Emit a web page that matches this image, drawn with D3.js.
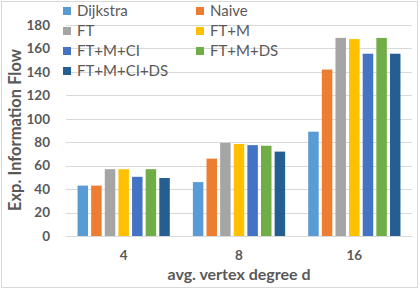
<!DOCTYPE html>
<html>
<head>
<meta charset="utf-8">
<script src="https://cdn.jsdelivr.net/npm/d3@7"></script>
<style>
body { margin: 0; background: #fff; }
svg text { font-family: Lato, "Open Sans", sans-serif; fill: #595959; }
</style>
</head>
<body>
<div id="chart"></div>
<script>
const categories = ['4', '8', '16'];
const seriesNames = ['Dijkstra', 'Naive', 'FT', 'FT+M', 'FT+M+CI', 'FT+M+DS', 'FT+M+CI+DS'];
const colors = ['#5B9BD5', '#ED7D31', '#A5A5A5', '#FFC000', '#4472C4', '#70AD47', '#255E91'];
const values = {
  'Dijkstra':   [43, 46, 89],
  'Naive':      [43, 66, 142],
  'FT':         [57, 79.5, 169],
  'FT+M':       [57, 78.5, 168],
  'FT+M+CI':    [50.5, 77.5, 155.5],
  'FT+M+DS':    [57, 77, 169],
  'FT+M+CI+DS': [49.5, 72, 155.5]
};
const yTicks = [0, 20, 40, 60, 80, 100, 120, 140, 160, 180];

const width = 420, height = 289;
const margin = {top: 25, right: 8, bottom: 53, left: 66};

const svg = d3.select('#chart').append('svg')
  .attr('width', width)
  .attr('height', height);

svg.append('rect')
  .attr('x', 1.5).attr('y', 1.5)
  .attr('width', width - 4).attr('height', height - 3)
  .attr('fill', '#fff')
  .attr('stroke', '#d9d9d9');

const x0 = d3.scaleBand()
  .domain(categories)
  .range([margin.left, width - margin.right])
  .paddingInner(0.2)
  .paddingOuter(0.1);

const x1 = d3.scaleBand()
  .domain(seriesNames)
  .range([0, x0.bandwidth()])
  .paddingInner(0.23);

const y = d3.scaleLinear()
  .domain([0, 180])
  .range([height - margin.bottom, margin.top]);

// gridlines
svg.append('g')
  .selectAll('line')
  .data(yTicks)
  .enter()
  .append('line')
  .attr('x1', margin.left)
  .attr('x2', width - margin.right)
  .attr('y1', d => Math.round(y(d)) + 0.5)
  .attr('y2', d => Math.round(y(d)) + 0.5)
  .attr('stroke', '#d9d9d9');

// y axis labels
const yAxis = svg.append('g')
  .attr('transform', 'translate(' + (margin.left - 16) + ',0)')
  .call(d3.axisLeft(y).tickValues(yTicks).tickSize(0).tickPadding(0));
yAxis.select('.domain').remove();
yAxis.selectAll('.tick text')
  .style('font-size', '13.5px')
  .style('font-weight', 'bold')
  .style('fill', '#595959');

// bars
const rows = categories.map((c, i) => ({cat: c, vals: seriesNames.map((s, j) => ({name: s, value: values[s][i], color: colors[j]}))}));

svg.append('g')
  .selectAll('g')
  .data(rows)
  .enter()
  .append('g')
  .attr('transform', d => 'translate(' + x0(d.cat) + ',0)')
  .selectAll('rect')
  .data(d => d.vals)
  .enter()
  .append('rect')
  .attr('x', d => x1(d.name))
  .attr('width', x1.bandwidth())
  .attr('y', d => y(d.value))
  .attr('height', d => y(0) - y(d.value))
  .attr('fill', d => d.color);

// x axis
const xAxis = svg.append('g')
  .attr('transform', 'translate(0,' + y(0) + ')')
  .call(d3.axisBottom(x0).tickSize(0).tickPadding(14));
xAxis.select('.domain').attr('stroke', '#d9d9d9');
xAxis.selectAll('.tick text')
  .style('font-size', '13.5px')
  .style('font-weight', 'bold')
  .style('fill', '#595959');

// axis titles
svg.append('text')
  .attr('x', 239)
  .attr('y', 280)
  .attr('text-anchor', 'middle')
  .style('font-size', '16px')
  .style('font-weight', 'bold')
  .text('avg. vertex degree d');

svg.append('text')
  .attr('transform', 'translate(21,' + 130 + ') rotate(-90)')
  .attr('text-anchor', 'middle')
  .style('font-size', '16.5px')
  .style('font-weight', 'bold')
  .text('Exp. Information Flow');

// legend
const legend = svg.append('g')
  .selectAll('g')
  .data(seriesNames)
  .enter()
  .append('g')
  .attr('transform', (d, i) => 'translate(' + (i % 2 === 0 ? 63 : 196) + ',' + (11 + Math.floor(i / 2) * 20) + ')');

legend.append('rect')
  .attr('x', 0).attr('y', -4)
  .attr('width', 8).attr('height', 8)
  .attr('fill', (d, i) => colors[i]);

legend.append('text')
  .attr('x', 14)
  .attr('y', 5)
  .style('font-size', '15px')
  .text(d => d);
</script>
</body>
</html>
